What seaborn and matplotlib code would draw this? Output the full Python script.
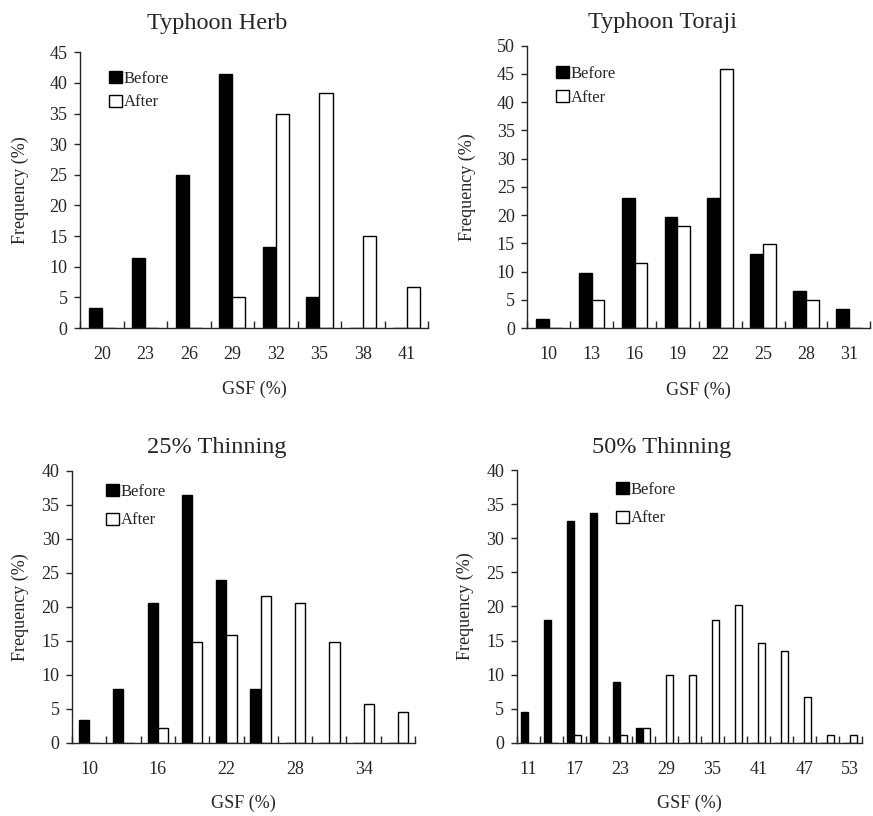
import numpy as np
import pandas as pd
import matplotlib
matplotlib.use('Agg')
import matplotlib.pyplot as plt
import seaborn as sns

# GSF classes (%) and frequency (%) before / after each event
herb_gsf = [20, 23, 26, 29, 32, 35, 38, 41]
herb_before = [3.3, 11.5, 25.0, 41.5, 13.3, 5.0, 0.0, 0.0]
herb_after = [0.0, 0.0, 0.0, 5.0, 35.0, 38.3, 15.0, 6.7]

toraji_gsf = [10, 13, 16, 19, 22, 25, 28, 31]
toraji_before = [1.6, 9.8, 23.0, 19.7, 23.0, 13.1, 6.6, 3.3]
toraji_after = [0.0, 4.9, 11.5, 18.0, 45.9, 14.8, 4.9, 0.0]

thin25_gsf = [10, 13, 16, 19, 22, 25, 28, 31, 34, 37]
thin25_before = [3.4, 7.9, 20.5, 36.4, 23.9, 7.9, 0.0, 0.0, 0.0, 0.0]
thin25_after = [0.0, 0.0, 2.2, 14.8, 15.9, 21.6, 20.5, 14.8, 5.7, 4.5]

thin50_gsf = [11, 14, 17, 20, 23, 26, 29, 32, 35, 38, 41, 44, 47, 50, 53]
thin50_before = [4.5, 18.0, 32.6, 33.7, 9.0, 2.2, 0, 0, 0, 0, 0, 0, 0, 0, 0]
thin50_after = [0.0, 0.0, 1.1, 0.0, 1.1, 2.2, 10.0, 10.0, 18.0, 20.2, 14.6, 13.5, 6.7, 1.1, 1.1]

sns.set_style('ticks')
plt.rcParams['font.family'] = ['Liberation Serif', 'DejaVu Serif']
plt.rcParams['axes.linewidth'] = 1.0


def long_frame(gsf, before, after):
    n = len(gsf)
    return pd.DataFrame({
        'GSF': [str(g) for g in gsf] * 2,
        'Frequency': list(before) + list(after),
        'Period': ['Before'] * n + ['After'] * n,
    })


def panel(ax, title, gsf, before, after, ymax, step, title_x, title_pad, ylab_x, leg_xy, leg_space):
    df = long_frame(gsf, before, after)
    n = len(gsf)
    sns.barplot(data=df, x='GSF', y='Frequency', hue='Period',
                order=[str(g) for g in gsf], hue_order=['Before', 'After'],
                palette={'Before': 'black', 'After': 'white'},
                edgecolor='black', linewidth=1.0, width=0.6, gap=0,
                errorbar=None, ax=ax)
    ax.set_xlim(-0.5, n - 0.5)
    ax.set_ylim(0, ymax)
    ax.set_yticks(np.arange(0, ymax + 1, 5))
    ax.set_xticks(np.arange(0, n, step))
    ax.set_xticklabels([str(g) for g in gsf[::step]])
    ax.set_xticks(np.arange(-0.5, n, 1), minor=True)
    ax.tick_params(axis='x', which='major', length=0, pad=13, labelsize=13)
    ax.tick_params(axis='x', which='minor', direction='in', length=5, width=1)
    ax.tick_params(axis='y', direction='out', length=4, width=1, pad=5, labelsize=13)
    # titles sit left of the axes centre, over the whole panel
    ax.set_title(title, fontsize=17.5, pad=title_pad, x=title_x)
    ax.set_xlabel('GSF (%)', fontsize=13)
    ax.set_ylabel('Frequency (%)', fontsize=13)
    ax.xaxis.set_label_coords(0.5, -0.19)
    ax.yaxis.set_label_coords(ylab_x, 0.5)
    sns.despine(ax=ax)
    handles, labels = ax.get_legend_handles_labels()
    ax.legend(handles, labels, frameon=False, loc='upper left',
              bbox_to_anchor=leg_xy, bbox_transform=ax.figure.transFigure,
              fontsize=12, handlelength=0.75, handleheight=0.75,
              handletextpad=0.15, labelspacing=leg_space,
              borderpad=0, borderaxespad=0)


fig = plt.figure(figsize=(8.73, 8.16), dpi=100)
ax1 = fig.add_axes([0.0916, 0.598, 0.399, 0.338])
ax2 = fig.add_axes([0.604, 0.598, 0.393, 0.346])
ax3 = fig.add_axes([0.0825, 0.0895, 0.393, 0.3335])
ax4 = fig.add_axes([0.592, 0.0895, 0.395, 0.3345])

panel(ax1, 'Typhoon Herb', herb_gsf, herb_before, herb_after, 45, 1, 0.394, 17, -0.145,
      (109 / 873, 1 - 71 / 816), 0.45)
panel(ax2, 'Typhoon Toraji', toraji_gsf, toraji_before, toraji_after, 50, 1, 0.394, 13, -0.15,
      (556 / 873, 1 - 66 / 816), 0.45)
panel(ax3, '25% Thinning', thin25_gsf, thin25_before, thin25_after, 40, 2, 0.423, 13, -0.125,
      (106 / 873, 1 - 484 / 816), 0.75)
panel(ax4, '50% Thinning', thin50_gsf, thin50_before, thin50_after, 40, 2, 0.42, 12, -0.125,
      (616 / 873, 1 - 482 / 816), 0.75)

fig.savefig('out.png', dpi=100, facecolor='white')
